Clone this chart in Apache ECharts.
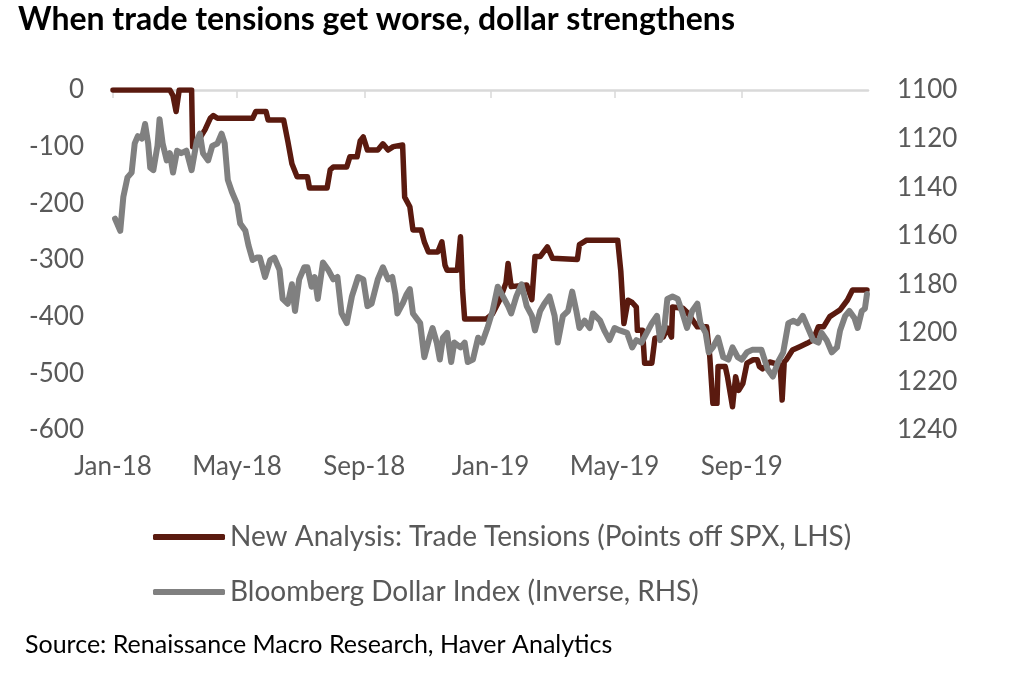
<!DOCTYPE html>
<html>
<head>
<meta charset="utf-8">
<script src="https://cdn.jsdelivr.net/npm/echarts@6/dist/echarts.min.js"></script>
<style>
html,body{margin:0;padding:0;background:#fff;}
#chart{width:1024px;height:678px;}
</style>
</head>
<body>
<div id="chart"></div>
<script>
// ---------- DATA ----------
var titleText = 'When trade tensions get worse, dollar strengthens';
var sourceText = 'Source: Renaissance Macro Research, Haver Analytics';
var seriesNames = ['New Analysis: Trade Tensions (Points off SPX, LHS)', 'Bloomberg Dollar Index (Inverse, RHS)'];
var tickDates = ['2018-01-01','2018-05-01','2018-09-01','2019-01-01','2019-05-01','2019-09-01'];
var tickLabels = ['Jan-18','May-18','Sep-18','Jan-19','May-19','Sep-19'];
var axisStart = '2018-01-01';
var axisEnd = '2020-01-01';

// Trade tensions (points off SPX), left axis
var tradeTensions = [
['2018-01-01',0],['2018-02-25',0],['2018-02-28',-10],['2018-03-03',-38],['2018-03-06',0],
['2018-03-18',0],['2018-03-19',-100],['2018-03-22',-100],['2018-03-26',-85],['2018-03-31',-70],
['2018-04-05',-50],['2018-04-08',-45],['2018-04-12',-50],['2018-05-16',-50],['2018-05-19',-38],
['2018-05-29',-38],['2018-05-31',-53],['2018-06-15',-53],['2018-06-19',-90],['2018-06-23',-130],
['2018-06-28',-153],['2018-07-08',-153],['2018-07-10',-173],['2018-07-27',-173],['2018-07-30',-141],
['2018-08-02',-136],['2018-08-15',-136],['2018-08-18',-118],['2018-08-25',-118],['2018-08-28',-90],
['2018-08-31',-83],['2018-09-04',-106],['2018-09-14',-106],['2018-09-19',-95],['2018-09-24',-106],
['2018-09-29',-100],['2018-10-08',-97],['2018-10-10',-189],['2018-10-15',-206],['2018-10-18',-247],
['2018-10-26',-247],['2018-10-29',-268],['2018-11-02',-286],['2018-11-11',-286],['2018-11-15',-268],
['2018-11-18',-309],['2018-11-20',-318],['2018-11-30',-318],['2018-12-03',-259],['2018-12-05',-353],
['2018-12-07',-404],['2018-12-28',-404],['2019-01-03',-395],['2019-01-10',-370],['2019-01-16',-340],
['2019-01-18',-306],['2019-01-21',-347],['2019-02-05',-344],['2019-02-10',-370],['2019-02-13',-294],
['2019-02-18',-294],['2019-02-25',-277],['2019-03-02',-297],['2019-03-26',-299],['2019-03-28',-273],
['2019-04-04',-265],['2019-05-04',-265],['2019-05-07',-320],['2019-05-10',-412],['2019-05-14',-371],
['2019-05-18',-375],['2019-05-22',-383],['2019-05-23',-424],['2019-05-28',-424],['2019-05-30',-482],
['2019-06-06',-482],['2019-06-09',-438],['2019-06-17',-436],['2019-06-21',-420],['2019-06-25',-436],
['2019-06-26',-383],['2019-07-06',-385],['2019-07-10',-392],['2019-07-20',-418],['2019-07-29',-418],
['2019-08-01',-470],['2019-08-04',-553],['2019-08-08',-553],['2019-08-09',-488],['2019-08-16',-488],
['2019-08-18',-505],['2019-08-23',-559],['2019-08-26',-506],['2019-08-29',-530],['2019-09-02',-518],
['2019-09-06',-482],['2019-09-12',-476],['2019-09-16',-476],['2019-09-18',-488],['2019-09-21',-492],
['2019-09-28',-480],['2019-10-08',-485],['2019-10-10',-547],['2019-10-12',-480],['2019-10-14',-476],
['2019-10-20',-459],['2019-10-27',-453],['2019-11-03',-447],['2019-11-09',-441],['2019-11-14',-418],
['2019-11-19',-418],['2019-11-25',-400],['2019-11-30',-394],['2019-12-05',-388],['2019-12-12',-371],
['2019-12-17',-353],['2019-12-27',-353],['2019-12-31',-353]
];

// Bloomberg Dollar Index, right axis (inverted)
var dollarIndex = [
['2018-01-03',1153],['2018-01-05',1155],['2018-01-08',1158],['2018-01-11',1144],['2018-01-15',1136],
['2018-01-19',1134],['2018-01-22',1122],['2018-01-25',1119],['2018-01-29',1120],['2018-02-01',1114],
['2018-02-04',1122],['2018-02-06',1132],['2018-02-09',1133],['2018-02-13',1123],['2018-02-15',1112],
['2018-02-18',1122],['2018-02-22',1129],['2018-02-25',1126],['2018-02-28',1134],['2018-03-04',1125],
['2018-03-08',1126],['2018-03-13',1125],['2018-03-18',1133],['2018-03-23',1121],['2018-03-26',1118],
['2018-03-29',1126],['2018-04-03',1129],['2018-04-07',1123],['2018-04-12',1122],['2018-04-16',1118],
['2018-04-19',1122],['2018-04-22',1137],['2018-04-26',1142],['2018-05-01',1147],['2018-05-04',1155],
['2018-05-09',1158],['2018-05-12',1164],['2018-05-16',1170],['2018-05-20',1169],['2018-05-23',1169],
['2018-05-28',1177],['2018-06-02',1170],['2018-06-06',1169],['2018-06-11',1174],['2018-06-14',1186],
['2018-06-19',1188],['2018-06-23',1180],['2018-06-26',1191],['2018-06-30',1178],['2018-07-05',1173],
['2018-07-08',1173],['2018-07-12',1181],['2018-07-15',1177],['2018-07-18',1186],['2018-07-23',1171],
['2018-07-28',1174],['2018-08-02',1178],['2018-08-06',1177],['2018-08-10',1192],['2018-08-15',1196],
['2018-08-20',1185],['2018-08-26',1177],['2018-08-31',1178],['2018-09-04',1189],['2018-09-08',1188],
['2018-09-14',1178],['2018-09-19',1173],['2018-09-24',1178],['2018-09-28',1177],['2018-10-01',1184],
['2018-10-03',1192],['2018-10-08',1188],['2018-10-12',1184],['2018-10-15',1182],['2018-10-18',1192],
['2018-10-25',1196],['2018-10-29',1210],['2018-11-03',1202],['2018-11-06',1198],['2018-11-10',1204],
['2018-11-13',1211],['2018-11-16',1202],['2018-11-20',1200],['2018-11-24',1212],['2018-11-27',1204],
['2018-12-03',1206],['2018-12-07',1204],['2018-12-10',1212],['2018-12-15',1211],['2018-12-20',1202],
['2018-12-24',1204],['2018-12-29',1198],['2019-01-03',1191],['2019-01-08',1181],['2019-01-13',1185],
['2019-01-18',1189],['2019-01-21',1192],['2019-01-26',1185],['2019-01-31',1180],['2019-02-05',1189],
['2019-02-10',1193],['2019-02-13',1199],['2019-02-18',1191],['2019-02-22',1188],['2019-02-27',1185],
['2019-03-04',1193],['2019-03-07',1204],['2019-03-12',1193],['2019-03-17',1191],['2019-03-21',1183],
['2019-03-25',1191],['2019-03-28',1198],['2019-04-02',1195],['2019-04-07',1198],['2019-04-10',1192],
['2019-04-17',1195],['2019-04-21',1199],['2019-04-26',1203],['2019-05-01',1198],['2019-05-06',1199],
['2019-05-13',1200],['2019-05-18',1206],['2019-05-22',1203],['2019-05-27',1204],['2019-06-01',1200],
['2019-06-06',1196],['2019-06-11',1193],['2019-06-14',1203],['2019-06-18',1198],['2019-06-21',1186],
['2019-06-26',1185],['2019-07-01',1186],['2019-07-05',1191],['2019-07-10',1198],['2019-07-15',1191],
['2019-07-20',1188],['2019-07-23',1196],['2019-07-28',1200],['2019-07-31',1208],['2019-08-04',1206],
['2019-08-09',1202],['2019-08-14',1210],['2019-08-19',1211],['2019-08-23',1206],['2019-08-28',1210],
['2019-09-01',1211],['2019-09-06',1208],['2019-09-11',1207],['2019-09-16',1207],['2019-09-20',1207],
['2019-09-23',1211],['2019-09-26',1215],['2019-10-01',1218],['2019-10-06',1212],['2019-10-11',1208],
['2019-10-16',1196],['2019-10-21',1195],['2019-10-25',1196],['2019-10-30',1193],['2019-11-04',1198],
['2019-11-09',1203],['2019-11-14',1204],['2019-11-17',1200],['2019-11-22',1203],['2019-11-27',1208],
['2019-12-02',1206],['2019-12-05',1199],['2019-12-10',1193],['2019-12-14',1191],['2019-12-19',1194],
['2019-12-22',1198],['2019-12-26',1191],['2019-12-29',1190],['2019-12-31',1184]
];

// ---------- CHART ----------
function toTime(s){ var p=s.split('-'); return Date.UTC(+p[0], +p[1]-1, +p[2]); }
var tickTimes = tickDates.map(toTime);
var FONT = 'Lato';
var LABEL_COLOR = '#595959';

var chart = echarts.init(document.getElementById('chart'), null, {renderer:'canvas'});
chart.setOption({
  animation:false,
  backgroundColor:'#ffffff',
  textStyle:{fontFamily:FONT},
  grid:{left:113, right:156, top:90, bottom:248, containLabel:false},
  legend:{
    orient:'vertical', left:148, top:518, itemGap:27, itemWidth:72, itemHeight:6,
    icon:'roundRect',
    textStyle:{fontFamily:FONT, fontSize:28, color:LABEL_COLOR, lineHeight:28},
    data:seriesNames
  },
  xAxis:[{
    type:'value', position:'bottom', min:toTime(axisStart), max:toTime(axisEnd),
    axisLine:{show:false}, axisTick:{show:false}, splitLine:{show:false},
    axisLabel:{
      customValues:tickTimes, margin:24, fontSize:26, color:LABEL_COLOR, fontFamily:FONT,
      formatter:function(v){ var i=tickTimes.indexOf(v); return i>=0?tickLabels[i]:''; }
    }
  },{
    type:'value', position:'top', min:toTime(axisStart), max:toTime(axisEnd),
    axisLine:{show:true, lineStyle:{color:'#d9d9d9', width:2.5}},
    axisTick:{show:true, inside:true, length:8, customValues:tickTimes, lineStyle:{color:'#d9d9d9', width:1.5}},
    axisLabel:{show:false}, splitLine:{show:false}
  }],
  yAxis:[{
    type:'value', position:'left', min:-600, max:0, interval:100,
    axisLine:{show:false}, axisTick:{show:false}, splitLine:{show:false},
    axisLabel:{margin:29, fontSize:26, color:LABEL_COLOR, fontFamily:FONT}
  },{
    type:'value', position:'right', min:1100, max:1240, interval:20, inverse:true,
    axisLine:{show:false}, axisTick:{show:false}, splitLine:{show:false},
    axisLabel:{margin:29, fontSize:26, color:LABEL_COLOR, fontFamily:FONT,
      formatter:function(v){ return String(v); }}
  }],
  series:[{
    name:seriesNames[0], type:'line', xAxisIndex:0, yAxisIndex:0, showSymbol:false, symbol:'none',
    data:tradeTensions.map(function(d){return [toTime(d[0]), d[1]];}),
    lineStyle:{color:'#5a1a0f', width:5.5, join:'round', cap:'round'},
    itemStyle:{color:'#5a1a0f'}
  },{
    name:seriesNames[1], type:'line', xAxisIndex:0, yAxisIndex:1, showSymbol:false, symbol:'none',
    data:dollarIndex.map(function(d){return [toTime(d[0]), d[1]];}),
    lineStyle:{color:'#808080', width:6, join:'round', cap:'round'},
    itemStyle:{color:'#808080'}
  }],
  graphic:[{
    type:'text', left:18, top:4,
    style:{text:titleText, fontFamily:FONT, fontWeight:'bold', fontSize:32, fill:'#000'}
  },{
    type:'text', left:25, top:632,
    style:{text:sourceText, fontFamily:FONT, fontSize:25, fill:'#000'}
  }]
});
</script>
</body>
</html>
